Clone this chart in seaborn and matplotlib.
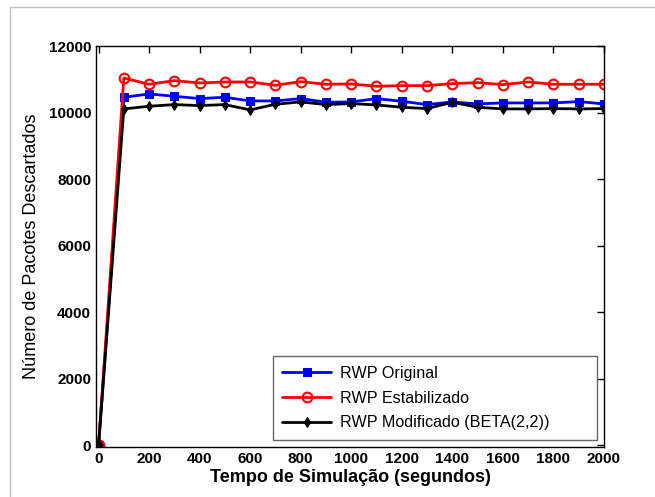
import numpy as np
import pandas as pd
import seaborn as sns
import matplotlib.pyplot as plt
from matplotlib.lines import Line2D

# Dados
tempo = [0, 100, 200, 300, 400, 500, 600, 700, 800, 900, 1000,
         1100, 1200, 1300, 1400, 1500, 1600, 1700, 1800, 1900, 2000]
rwp_original = [0, 10460, 10560, 10490, 10420, 10460, 10350, 10350, 10420, 10310, 10320,
                10420, 10340, 10240, 10320, 10260, 10290, 10290, 10290, 10330, 10260]
rwp_estabilizado = [0, 11040, 10850, 10960, 10890, 10920, 10920, 10820, 10930, 10850, 10860,
                    10790, 10810, 10810, 10870, 10900, 10840, 10920, 10850, 10850, 10850]
rwp_modificado = [0, 10110, 10190, 10240, 10210, 10240, 10080, 10250, 10320, 10240, 10270,
                  10230, 10160, 10120, 10310, 10160, 10110, 10110, 10120, 10110, 10120]

df = pd.DataFrame({
    'tempo': tempo,
    'RWP Original': rwp_original,
    'RWP Estabilizado': rwp_estabilizado,
    'RWP Modificado (BETA(2,2))': rwp_modificado,
})

sns.set_theme(style="white")
plt.rcParams['font.family'] = ['Liberation Sans', 'DejaVu Sans']
plt.rcParams['text.color'] = 'black'
plt.rcParams['axes.labelcolor'] = 'black'

fig = plt.figure(figsize=(6.55, 4.97), dpi=100)
ax = fig.add_axes([0.1466, 0.1006, 0.7754, 0.8068])

sns.lineplot(data=df, x='tempo', y='RWP Original', ax=ax, color='blue', linewidth=2,
             marker='s', markersize=6, markeredgecolor='blue', label='RWP Original')
sns.lineplot(data=df, x='tempo', y='RWP Estabilizado', ax=ax, color='red', linewidth=2,
             marker='o', markersize=7, markerfacecolor='none', markeredgecolor='red',
             markeredgewidth=1.5, label='RWP Estabilizado')
sns.lineplot(data=df, x='tempo', y='RWP Modificado (BETA(2,2))', ax=ax, color='black',
             linewidth=2, marker='d', markersize=5.5, markeredgecolor='black',
             label='RWP Modificado (BETA(2,2))')

ax.set_xlim(-10, 2000)
ax.set_ylim(-50, 12000)
ax.set_xticks(range(0, 2001, 200))
ax.set_yticks(range(0, 12001, 2000))
ax.tick_params(direction='in', top=True, right=True, length=5, width=1, colors='black',
               labelsize=11)
for lab in ax.get_xticklabels() + ax.get_yticklabels():
    lab.set_fontweight('bold')
for s in ax.spines.values():
    s.set_color('black')
    s.set_linewidth(1)

ax.set_xlabel('Tempo de Simulação (segundos)', fontsize=13, fontweight='bold', labelpad=2)
ax.set_ylabel('Número de Pacotes Descartados', fontsize=13, labelpad=6)

leg = ax.legend(loc='lower left', mode='expand', fontsize=11.6, frameon=True, fancybox=False,
                edgecolor='#404040', borderpad=0.6, labelspacing=0.6, handlelength=3.0,
                handletextpad=0.6, borderaxespad=0,
                bbox_to_anchor=(0.348, 0.0175, 0.638, 0.214))
leg.get_frame().set_linewidth(1)

# moldura cinza da figura
fig.add_artist(Line2D([0.015, 1.0], [0.986, 0.986], color='#c0c0c0', linewidth=1))
fig.add_artist(Line2D([0.015, 0.015], [0.0, 0.986], color='#c0c0c0', linewidth=1))

plt.savefig('out.png', dpi=100)
